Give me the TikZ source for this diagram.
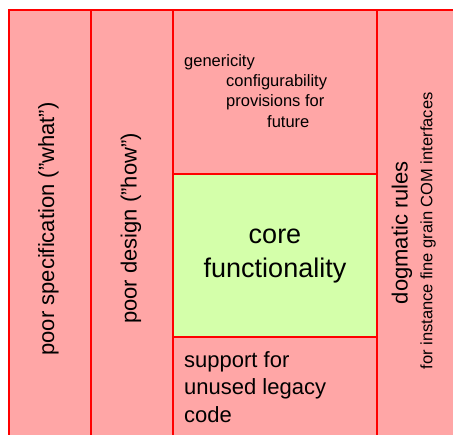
\documentclass[tikz,border=0pt]{standalone}
\usepackage{fontspec}
\setmainfont{Liberation Sans}
\definecolor{pinkfill}{HTML}{FFA6A6}
\definecolor{greenfill}{HTML}{D4FFAA}
\definecolor{redline}{HTML}{FF0000}
\tikzset{
  region/.style={draw=redline, line width=2pt, inner sep=0pt, outer sep=0pt},
  pinkbox/.style={region, fill=pinkfill},
  greenbox/.style={region, fill=greenfill},
  bigtext/.style={font=\fontsize{22}{27.5}\selectfont, inner sep=0pt},
  smalltext/.style={font=\fontsize{16.5}{20}\selectfont, inner sep=0pt},
  coretext/.style={font=\fontsize{27}{34}\selectfont, inner sep=0pt, align=center},
}
\begin{document}
\begin{tikzpicture}[x=1pt, y=-1pt]
\useasboundingbox (0,0) rectangle (453,435);
\clip (0,0) rectangle (453,435);
% columns
\node[pinkbox, minimum width=82pt, minimum height=440pt] (spec) at (50,230) {};
\node[pinkbox, minimum width=82pt, minimum height=440pt] (design) at (132,230) {};
\node[pinkbox, minimum width=93pt, minimum height=440pt] (rules) at (423.5,230) {};
\node[pinkbox, minimum width=204pt, minimum height=164pt] (extras) at (275,92) {};
\node[pinkbox, minimum width=204pt, minimum height=113pt] (legacy) at (275,393.5) {};
\node[greenbox, minimum width=204pt, minimum height=163pt] (core) at (275,255.5) {};
% texts
\node[bigtext, rotate=90] (spectext) at (48.5,229) {poor specification ("what")};
\node[bigtext, rotate=90] (designtext) at (131,228.5) {poor design ("how")};
\node[bigtext, rotate=90] (rulestext) at (402,232.5) {dogmatic rules};
\node[smalltext, rotate=90] (rulesnote) at (428,231) {for instance fine grain COM interfaces};
\node[coretext] (coretxt) at (275,256) {core\\functionality};
\node[smalltext, anchor=base west] (l1) at (184,67) {genericity};
\node[smalltext, anchor=base west] (l2) at (226,87) {configurability};
\node[smalltext, anchor=base west] (l3) at (226,107) {provisions for};
\node[smalltext, anchor=base west] (l4) at (267,128) {future};
\node[bigtext, anchor=north west, align=left] (legacytext) at (184,351) {support for\\unused legacy\\code};
\end{tikzpicture}
\end{document}
